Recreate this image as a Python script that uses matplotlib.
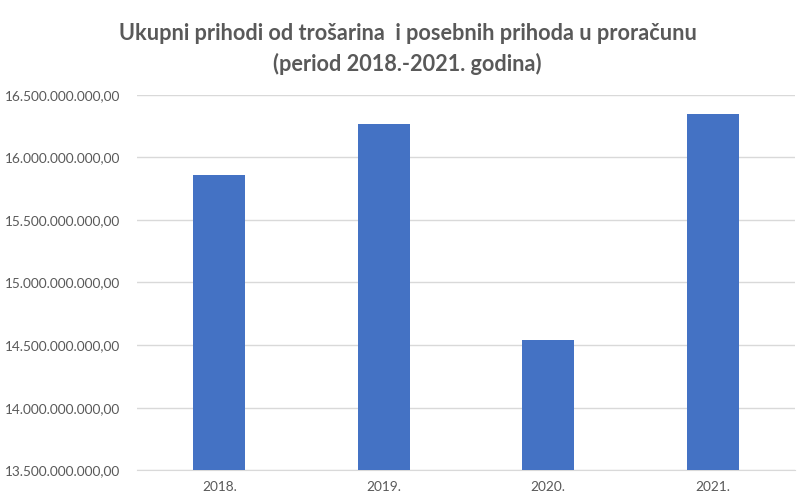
import matplotlib
matplotlib.use("Agg")
import matplotlib.pyplot as plt
from matplotlib.ticker import FuncFormatter, MultipleLocator

godine = ["2018.", "2019.", "2020.", "2021."]
prihodi = [15.86e9, 16.263e9, 14.537e9, 16.343e9]

plt.rcParams['font.family'] = ['Lato', 'DejaVu Sans']

siva = '#595959'
plava = '#4472C4'


def hr_format(v, pos):
    s = f"{v:,.2f}"
    return s.replace(",", "X").replace(".", ",").replace("X", ".")


fig = plt.figure(figsize=(7.99, 4.97), dpi=100)
ax = fig.add_axes([0.1715, 0.0537, 0.8235, 0.7558])

ax.bar(range(len(godine)), prihodi, width=0.316, color=plava, zorder=3)

ax.set_ylim(13.5e9, 16.5e9)
ax.set_xlim(-0.5, len(godine) - 0.5)
ax.yaxis.set_major_locator(MultipleLocator(0.5e9))
ax.yaxis.set_major_formatter(FuncFormatter(hr_format))
ax.set_xticks(range(len(godine)))
ax.set_xticklabels(godine)

ax.grid(axis='y', color='#D9D9D9', linewidth=1, zorder=0)
for s in ['top', 'right', 'left']:
    ax.spines[s].set_visible(False)
ax.spines['bottom'].set_color('#D9D9D9')
ax.tick_params(axis='both', length=0, colors=siva, labelsize=9.8)
ax.tick_params(axis='y', pad=12)
ax.tick_params(axis='x', pad=8)

fig.text(0.51, 0.932, "Ukupni prihodi od trošarina  i posebnih prihoda u proračunu",
         ha='center', va='center', fontsize=15.6, fontweight='bold', color=siva)
fig.text(0.51, 0.872, "(period 2018.-2021. godina)",
         ha='center', va='center', fontsize=15.6, fontweight='bold', color=siva)

fig.savefig("out.png", dpi=100)
